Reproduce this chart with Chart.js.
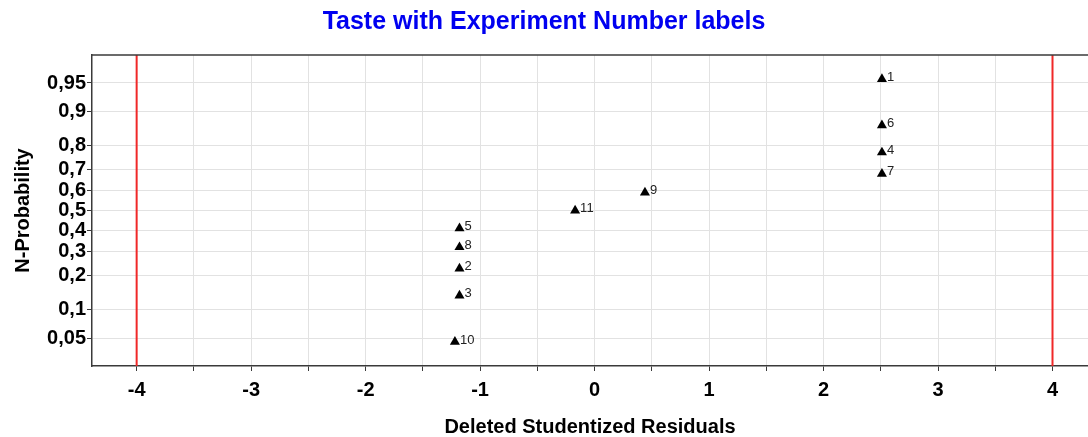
<!DOCTYPE html>
<html>
<head>
<meta charset="utf-8">
<title>Taste with Experiment Number labels</title>
<script src="https://cdn.jsdelivr.net/npm/chart.js@4.4.1/dist/chart.umd.min.js"></script>
<style>
    html, body { margin: 0; padding: 0; background: #fff; overflow: hidden; }
    #wrap { width: 1088px; height: 437px; }
</style>
</head>
<body>
<div id="wrap"><canvas id="npChart"></canvas></div>
<script>
// experiment numbers, residuals and normal probabilities
const expNo = ['1', '6', '4', '7', '9', '11', '5', '8', '2', '3', '10'];
const residuals = [2.51, 2.51, 2.51, 2.51, 0.44, -0.17, -1.18, -1.18, -1.18, -1.18, -1.22];
const probability = [0.955, 0.864, 0.773, 0.682, 0.591, 0.5, 0.409, 0.318, 0.227, 0.136, 0.045];

const yTickProbs = [0.05, 0.1, 0.2, 0.3, 0.4, 0.5, 0.6, 0.7, 0.8, 0.9, 0.95];
const limitValues = [-4, 4];
const xRange = [-4.39, 4.31];
const zRange = [-2.006, 2.006];

const FONT = 'Arial, "Liberation Sans", sans-serif';

// inverse of the standard normal cdf (Acklam)
function probit(p) {
    const a = [-3.969683028665376e+01, 2.209460984245205e+02, -2.759285104469687e+02, 1.383577518672690e+02, -3.066479806614716e+01, 2.506628277459239e+00];
    const b = [-5.447609879822406e+01, 1.615858368580409e+02, -1.556989798598866e+02, 6.680131188771972e+01, -1.328068155288572e+01];
    const c = [-7.784894002430293e-03, -3.223964580411365e-01, -2.400758277161838e+00, -2.549732539343734e+00, 4.374664141464968e+00, 2.938163982698783e+00];
    const d = [7.784695709041462e-03, 3.224671290700398e-01, 2.445134137142996e+00, 3.754408661907416e+00];
    const pLow = 0.02425;
    let q, r;
    if (p < pLow) {
        q = Math.sqrt(-2 * Math.log(p));
        return (((((c[0] * q + c[1]) * q + c[2]) * q + c[3]) * q + c[4]) * q + c[5]) / ((((d[0] * q + d[1]) * q + d[2]) * q + d[3]) * q + 1);
    }
    if (p <= 1 - pLow) {
        q = p - 0.5;
        r = q * q;
        return (((((a[0] * r + a[1]) * r + a[2]) * r + a[3]) * r + a[4]) * r + a[5]) * q / (((((b[0] * r + b[1]) * r + b[2]) * r + b[3]) * r + b[4]) * r + 1);
    }
    q = Math.sqrt(-2 * Math.log(1 - p));
    return -(((((c[0] * q + c[1]) * q + c[2]) * q + c[3]) * q + c[4]) * q + c[5]) / ((((d[0] * q + d[1]) * q + d[2]) * q + d[3]) * q + 1);
}

const points = residuals.map((r, i) => ({ x: r, y: probit(probability[i]) }));

const limitSets = limitValues.map(v => ({
    type: 'line',
    data: [{ x: v, y: zRange[0] }, { x: v, y: zRange[1] }],
    borderColor: '#f02828',
    borderWidth: 2,
    pointRadius: 0,
    fill: false
}));

// experiment number next to each triangle
const pointLabels = {
    id: 'pointLabels',
    afterDatasetsDraw(chart) {
        const ctx = chart.ctx;
        const meta = chart.getDatasetMeta(0);
        ctx.save();
        ctx.font = '13px ' + FONT;
        ctx.fillStyle = '#222';
        ctx.textAlign = 'left';
        ctx.textBaseline = 'middle';
        meta.data.forEach((el, i) => {
            ctx.fillText(expNo[i], el.x + 5, el.y - 2);
        });
        ctx.restore();
    }
};

// top edge of the plot frame
const frameTop = {
    id: 'frameTop',
    afterDraw(chart) {
        const { ctx, chartArea } = chart;
        ctx.save();
        ctx.strokeStyle = '#3a3a3a';
        ctx.lineWidth = 1.5;
        ctx.beginPath();
        ctx.moveTo(chartArea.left, chartArea.top);
        ctx.lineTo(chartArea.right, chartArea.top);
        ctx.stroke();
        ctx.restore();
    }
};

new Chart(document.getElementById('npChart'), {
    type: 'scatter',
    data: {
        datasets: [{
            data: points,
            pointStyle: 'triangle',
            pointRadius: 5.8,
            pointHoverRadius: 5.8,
            backgroundColor: '#000',
            borderColor: '#000',
            borderWidth: 0
        }, ...limitSets]
    },
    options: {
        responsive: true,
        maintainAspectRatio: false,
        animation: false,
        layout: { padding: 0, autoPadding: false },
        plugins: {
            legend: { display: false },
            tooltip: { enabled: false },
            title: {
                display: true,
                text: 'Taste with Experiment Number labels',
                color: '#0000f0',
                font: { family: FONT, size: 25, weight: 'bold' },
                padding: { top: 7, bottom: 18 }
            }
        },
        scales: {
            x: {
                type: 'linear',
                min: xRange[0],
                max: xRange[1],
                afterFit(scale) { scale.height = 71; },
                border: { display: true, color: '#3a3a3a', width: 1.5 },
                grid: { color: '#e2e2e2', tickColor: '#3a3a3a', tickLength: 5 },
                ticks: {
                    stepSize: 0.5,
                    includeBounds: false,
                    autoSkip: false,
                    maxRotation: 0,
                    padding: 7,
                    color: '#000',
                    font: { family: FONT, size: 20, weight: 'bold' },
                    callback: v => Number.isInteger(v) ? String(v) : ''
                },
                title: {
                    display: true,
                    text: 'Deleted Studentized Residuals',
                    color: '#000',
                    font: { family: FONT, size: 20, weight: 'bold', lineHeight: 1 },
                    padding: { top: 0, bottom: 0 }
                }
            },
            y: {
                type: 'linear',
                min: zRange[0],
                max: zRange[1],
                afterFit(scale) { scale.width = 92; },
                afterBuildTicks(scale) {
                    scale.ticks = yTickProbs.map(p => ({ value: probit(p) }));
                },
                border: { display: true, color: '#3a3a3a', width: 1.5 },
                grid: { color: '#e2e2e2', tickColor: '#3a3a3a', tickLength: 5 },
                ticks: {
                    padding: 1,
                    autoSkip: false,
                    color: '#000',
                    font: { family: FONT, size: 20, weight: 'bold' },
                    callback: (v, i) => String(yTickProbs[i]).replace('.', ',')
                },
                title: {
                    display: true,
                    text: 'N-Probability',
                    color: '#000',
                    font: { family: FONT, size: 20, weight: 'bold', lineHeight: 1 },
                    padding: { top: 13, bottom: 0 }
                }
            }
        }
    },
    plugins: [pointLabels, frameTop]
});
</script>
</body>
</html>
